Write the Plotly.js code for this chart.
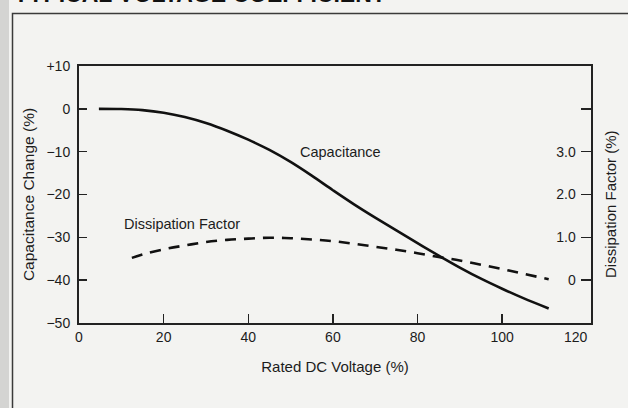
<!DOCTYPE html>
<html>
<head>
<meta charset="utf-8">
<script src="https://cdn.plot.ly/plotly-3.0.1.min.js"></script>
<style>
html,body{margin:0;padding:0;background:#f3f3f1;}
#chart{width:628px;height:408px;}
</style>
</head>
<body>
<div id="chart"></div>
<script>
// Rated DC voltage (%) for the capacitance curve
var capVoltage = [4.7, 10, 15, 20, 25, 30, 35, 40, 45, 50, 55, 60, 65, 70, 75, 80, 85, 90, 95, 100, 105, 111];
// Capacitance change (%)
var capChange = [0, -0.05, -0.3, -0.9, -1.9, -3.3, -5.1, -7.2, -9.6, -12.4, -15.6, -19.0, -22.3, -25.4, -28.4, -31.35, -34.25, -37.05, -39.65, -42.0, -44.2, -46.6];
// Rated DC voltage (%) for the dissipation factor curve
var dfVoltage = [12.5, 15, 20, 25, 30, 35, 40, 45, 50, 55, 60, 65, 70, 75, 80, 85, 90, 95, 100, 105, 111];
// Dissipation factor (%)
var dfValue = [0.52, 0.60, 0.72, 0.81, 0.89, 0.94, 0.97, 0.99, 0.98, 0.95, 0.91, 0.85, 0.78, 0.71, 0.63, 0.54, 0.46, 0.36, 0.26, 0.15, 0.02];

var xTickVals = [0, 20, 40, 60, 80, 100];
var xTickText = ["0", "20", "40", "60", "80", "100"];
var xEndLabel = "120";
var yTickVals = [10, 0, -10, -20, -30, -40, -50];
var yTickText = ["+10", "0", "\u221210", "\u221220", "\u221230", "\u221240", "\u221250"];
var y2TickVals = [0, 1, 2, 3, 4];
var y2TickText = ["0", "1.0", "2.0", "3.0", ""];

var FONT = "Liberation Sans, Arial, sans-serif";
var INK = "#1c1c1c";

// layout geometry (pixels)
var W = 628, H = 408, mL = 79, mR = 37, mT = 66, mB = 85;
var pw = W - mL - mR, ph = H - mT - mB;
function px(x) { return (x - mL) / pw; }
function py(y) { return (H - mB - y) / ph; }

var traces = [
  {x: capVoltage, y: capChange, type: "scatter", mode: "lines", name: "Capacitance",
   line: {color: "#111", width: 2.6, shape: "spline", smoothing: 1}, xaxis: "x", yaxis: "y"},
  {x: dfVoltage, y: dfValue, type: "scatter", mode: "lines", name: "Dissipation Factor",
   line: {color: "#111", width: 2.6, dash: "11px,8px", shape: "spline", smoothing: 1}, xaxis: "x", yaxis: "y2"}
];

var layout = {
  width: W, height: H,
  margin: {l: mL, r: mR, t: mT, b: mB, pad: 0},
  paper_bgcolor: "#f3f3f1", plot_bgcolor: "#f3f3f1",
  showlegend: false,
  font: {family: FONT, size: 14, color: INK},
  xaxis: {
    range: [0, 121], tickmode: "array", tickvals: xTickVals, ticktext: xTickText,
    ticks: "inside", ticklen: 9, tickwidth: 1.5, tickcolor: "#222",
    showline: true, linewidth: 2, linecolor: "#222", mirror: true,
    showgrid: false, zeroline: false, tickfont: {size: 14, color: INK},
    title: {text: "Rated DC Voltage (%)", font: {size: 15, color: INK}, standoff: 18}
  },
  yaxis: {
    range: [-50, 10], tickmode: "array", tickvals: yTickVals, ticktext: yTickText,
    ticks: "inside", ticklen: 8, tickwidth: 1.5, tickcolor: "#222",
    showline: true, linewidth: 2, linecolor: "#222", mirror: true,
    showgrid: false, zeroline: false, tickfont: {size: 14, color: INK},
    ticklabelstandoff: 4,
    title: {text: "Capacitance Change (%)", font: {size: 15.5, color: INK}, standoff: 8}
  },
  yaxis2: {
    range: [-1, 5], overlaying: "y", side: "right", anchor: "x",
    tickmode: "array", tickvals: y2TickVals, ticktext: y2TickText,
    ticks: "inside", ticklen: 10, tickwidth: 1.5, tickcolor: "#222",
    ticklabelposition: "inside", ticklabelstandoff: 5,
    showline: true, linewidth: 2, linecolor: "#222",
    showgrid: false, zeroline: false, tickfont: {size: 14, color: INK}
  },
  annotations: [
    {x: 61.7, y: -10, xref: "x", yref: "y", text: "Capacitance", showarrow: false,
     font: {size: 14.5, color: INK}},
    {x: 24.3, y: -27, xref: "x", yref: "y", text: "Dissipation Factor", showarrow: false,
     font: {size: 14.5, color: INK}},
    {x: 117.5, y: 0, xref: "x", yref: "paper", yanchor: "top", yshift: -4, text: xEndLabel, showarrow: false,
     font: {size: 14, color: INK}},
    {x: px(610), y: py(204), xref: "paper", yref: "paper", xanchor: "center", yanchor: "middle",
     text: "Dissipation Factor (%)", textangle: -90, showarrow: false,
     font: {size: 15, color: INK}},
    {x: px(12), y: py(9), xref: "paper", yref: "paper", xanchor: "left", yanchor: "bottom",
     text: "<b>TYPICAL VOLTAGE COEFFICIENT</b>", showarrow: false,
     font: {size: 23, color: "#111", family: FONT}}
  ],
  shapes: [
    {type: "rect", xref: "paper", yref: "paper", x0: px(-5), x1: px(9), y0: py(-5), y1: py(420),
     fillcolor: "#d4d4d2", line: {width: 0}, layer: "below"},
    {type: "rect", xref: "paper", yref: "paper", x0: px(12.5), x1: px(660), y0: py(13.5), y1: py(440),
     fillcolor: "rgba(0,0,0,0)", line: {width: 1.5, color: "#3a3a3a"}, layer: "below"}
  ]
};

Plotly.newPlot("chart", traces, layout, {displayModeBar: false, staticPlot: true});
</script>
</body>
</html>
